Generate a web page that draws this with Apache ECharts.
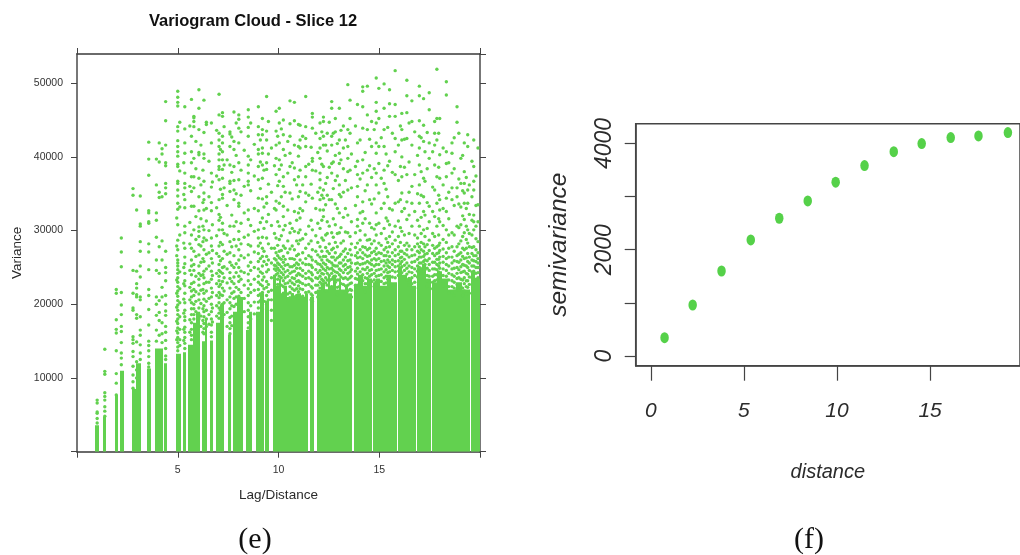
<!DOCTYPE html>
<html><head><meta charset="utf-8">
<script src="https://cdn.jsdelivr.net/npm/echarts@6/dist/echarts.min.js"></script>
<style>html,body{margin:0;padding:0;background:#fff}#c{width:1020px;height:555px}</style>
</head><body><div id="c"></div>
<script>
// Panel (e): variance values are in thousands.
// solid stripes: [lag start, lag end, top]
const solidStripes = [
[.87,1.07,3.6],[1.27,1.45,4.7],[1.87,2.03,7.7],[2.11,2.31,11],[2.71,2.95,8.5],[2.95,3.2,12],[3.47,3.66,11.3],[3.86,4.27,14],[4.34,4.49,12],
[4.89,5.15,13.3],[5.25,5.43,13.5],[5.53,5.75,14.5],[5.75,5.92,17.5],[5.92,6.09,19],[6.19,6.33,15],[6.33,6.46,18],[6.58,6.75,15.1],[6.88,7.08,17.5],[7.08,7.3,20],[7.49,7.65,15.9],[7.72,7.95,19],[7.95,8.25,21],[8.37,8.52,16.5],[8.52,8.7,19],[8.87,9.08,19],[9.08,9.29,21.5],[9.34,9.54,20.5],
[9.74,9.9,24],[9.9,10,22.5],[10,10.1,23.5],[10.1,10.25,21.5],[10.25,10.4,22.5],[10.4,10.6,21],[10.6,10.75,21.5],[10.75,10.9,21],[10.9,11.1,21.5],[11.1,11.3,21],[11.3,11.45,21.5],
[11.57,11.78,21],[11.9,12.1,22],[12.1,12.3,23],[12.3,12.45,22],[12.45,12.55,24],[12.55,12.7,22.5],[12.7,12.85,24],[12.85,13,22],[13,13.1,23.5],[13.1,13.3,22],[13.3,13.45,22.5],[13.45,13.67,21.5],
[13.77,13.95,22.5],[13.95,14.2,24],[14.2,14.4,22.5],[14.4,14.65,23.5],[14.69,14.85,23],[14.85,15.05,23.5],[15.05,15.36,22.5],[15.4,15.6,24],[15.6,15.88,23],[15.92,16.15,25],[16.15,16.4,24],[16.4,16.65,23.5],[16.65,16.83,22.5],
[16.87,17.1,25],[17.1,17.3,25.5],[17.34,17.57,23.5],[17.61,17.85,23],[17.85,18.1,24.5],[18.1,18.4,23.5],[18.4,18.8,22],[18.8,19.1,23],[19.1,19.5,22],[19.56,19.75,24.5],[19.75,20,23.5]
];
// sparse cloud: [lag, [variance...]]
const upperCloud = [
[1.0,[7,6.6,5.4,5.2,4.5,3.9]],[1.38,[13.9,10.9,10.5,8,7.5,7,6.1,5.5,4.8]],[1.95,[22,21.5,17.9,16.6,16.1,13.7,10.6,9.3,7.7]],
[2.2,[29,27.1,25.1,21.6,19.9,18.6,17,16.3,14.8,13.4,12.7,11.8]],
[2.78,[35.7,34.8,24.6,21.5,19.5,19.2,15.6,15.2,14.7,13.6,12.9,11.6,10.4,9.5,8.6]],[2.96,[32.8,24.5,22.8,22.2,21.3,21,18.6,18.1,14.9,12.2,11.1,10]],
[3.14,[34.7,30.9,30.6,28.5,27.2,25.2,23.7,21,20.6,18.3,16.5,15.8,14.5,13.4,12.5]],[3.56,[42,39.7,37.5,32.7,32.4,31,31.2,28.2,27.1,24.7,22,21.2,19.3,17.2,15,14.4,13.7,12.9,12,11.5]],
[3.94,[39.7,36.2,32.4,31.4,29.1,26,24.6,21,20,18.5,16.5,15]],[4.08,[41.9,39.3,35.2,34.5,27.8,24.2,20.5,18.9,17.8,15.8]],[4.22,[41.1,40.4,34.6,28.6,26,22.3,21,17.5,16,14.8]],
[4.4,[47.5,44.9,41.6,39.2,38.8,36.4,35.8,35,27.2,25,24.3,23.2,21.2,20,19.1,18.5,17,16.2,15.1,14,13,12.5]],
[5,[48.9,48.1,47.4,46.9,44.1,43.5,42.2,41.4,40.7,40.1,39,38.7,36.7,36.4,35.5,34.7,33.7,32.9,30.8,28.7,27.4,26,25.6,25.2,24.7,24.2,23.6,23,22.4,21.8,21.1,20.5,19.9,19.2,18.6,18,17.4,16.8,16.1,15.5,14.8,14.2,13.7]],
[5.35,[46.8,43.8,41.9,40.5,37.8,36.4,35.8,34.2,33.1,30.6,29.7,27.6,26.4,25.5,24.2,23.2,22.5,21.5,20.2,19.2,18.3,17.8,16.9,16.2,15.5,14.7,14]],
[5.68,[47.8,42.8,40.7,39.2,37.3,35.3,33.3,29.4,27.6,26,25.2,24,22.8,21.8,21,20.2,19.4,18.6,17.5,16.6,15.8,15.2]],
[5.8,[45.5,45.3,44.8,44.1,39.8,37.3,35.8,33.3,30.1,27.2,25.4,24.6,23,22,21.2,20,19.4,18.6,18]],
[6.05,[49.1,46.6,43.7,40.6,40.3,37.1,34.6,32.7,30.5,29.9,29.2,28.1,26.7,25.2,24.2,23.4,22.6,21.4,20.6,19.5,18.7,18]],
[6.3,[47.7,43.3,40.4,39.8,36.7,35.1,34.2,32.8,30.1,29,27.4,25.8,24.5,23.6,22.8,21.5,20.7,19.8,19,18.3,17.4,16.7,16]],
[6.42,[44.7,44.4,33,31.3,28.7,26.8,24.8,23,21.8,20.4,19.2,18,17]],
[6.67,[44.6,41.9,37.8,35.9,33.8,32.7,29,27.9,26.2,24.5,23.4,22.2,21,20,19,18,17.2,16.2,15.6]],
[7.05,[48.5,45.7,43.2,42.3,41.4,40.4,39.6,38.7,38.3,36.9,34.2,32.2,31.4,30.1,27.9,26.5,25.4,24.6,23.8,23.2,22.4,21.6,20.9,20.2,19.5,18.8,18.1]],
[7.22,[46,45.5,42.8,41.9,40.7,39.6,38.3,37.1,34.9,34.4,31,30.1,28.1,26.2,25,24.2,23.1,22.2,21.2,20,19,18.2]],
[7.59,[43.4,43.1,41.4,38.9,36.7,36.4,35.3,30.6,28.5,27,25.7,24.3,23.5,22.2,21,20.2,19.4,18.2,17.5,16.7,16]],
[7.79,[46.1,42.1,41,38.7,36.8,35.5,34.2,30.6,28.8,26.6,25,23.7,22.8,21.7,20.8,19.7]],
[8.03,[45.7,45.1,43.9,41.9,39.2,36.9,33.7,33.3,29.9,28.8,27.4,26,25,23.8,23.1,22,21.1,20.2,19.2]],
[8.5,[46.4,45.4,44,42.8,40.1,38.9,37.8,36.7,36.2,32.8,31.5,29.4,28.1,26.7,25.2,24.1,23.2,22.1,21.2,20.2,19.2,18.3,17.5,16.8]],
[9,[46.8,44.1,43,41,40.4,38.7,36.9,34.4,32.7,30.1,29,27.9,26.9,25.8,24.8,23.8,23,22,21.2,20.3,19.5]],
[9.2,[45.2,43.7,43,41.2,40.5,38.9,37.1,34.3,31.7,29.1,27.6,26.5,25.2,24.2,23.3,22.5,21.6,20.8,20,19.3]],
[9.41,[48.2,43.5,42.3,39.2,38.3,34.6,33.7,31.2,29,26.5,25.4,24.4,23.1,22.3,21.2,20.2,19.4]],
[9.88,[46.2,43.5,41.6,39.8,37.6,34,32.8,29,27,26,25.2,24.6,24]],
[10.04,[46.6,44.6,41.9,39.6,38.3,36.7,33.7,30.6,28.8,27.2,26.3,25.4,24.6,23.8]],
[10.24,[45,43,41,37.3,36,33.3,31.9,30.1,27.9,26.5,25.7,24.8,24,23.2,22.4,21.5]],
[10.57,[47.6,44.5,42.8,40.5,38.7,35.1,31,29.7,27.5,26.2,25.1,24.2,23.2,22.4,21.6,20.9]],
[10.79,[47.4,44.9,41.6,38.5,36.9,32.6,29.9,27.4,26.1,25.3,24.5,23.5,22.7,21.9,21]],
[10.99,[44.4,41.4,40.1,37.3,34.6,32.4,29.7,28.2,26.8,25.4,24.2,23.2,22.5,21.7,20.8]],
[11.07,[44.3,42.3,41.2,38.2,35.3,33,31.7,30.1,28.7,26,24.9,24,23,22.1]],
[11.35,[48.2,44.1,42.5,41.4,38.7,37.3,35.1,33.9,29.5,27.6,26.2,25.4,24.2,23.5,22.6,21.6,20.6]],
[11.68,[45.9,45.4,43.9,39.8,39.4,38.2,34.4,30.1,27.4,26,25,24,23.2,22.2,21.2,20.4]],
[12.06,[44.6,42.5,41.2,39.8,37.8,36.9,35.8,34.2,32.8,30.3,27.8,26.4,25.4,24.6,23.8,23,22.2]],
[12.23,[45.4,44.8,42.8,41.6,38.7,35.5,34.4,32.8,31.9,28.7,26.5,25.6,24.8,24.1,23.2,22.4]],
[12.42,[43.2,40.8,37.2,34.8,31.2,29.6,27.2,26,25,24.2,23.3,22.6,21.8]],
[12.64,[47.5,46.6,42.8,41.6,39.1,37.8,34.2,29.7,27.4,26.4,25.6,24.9,24.2,23.4,22.4]],
[12.82,[45.2,43.4,40.2,36.8,33.6,30.8,28.4,27,26,25.2,24.4,23.8,23]],
[13.02,[46.6,42.3,40.5,39.1,36.2,34.9,32.4,29.7,26.5,25.6,24.8,24,23.3,22.4]],
[13.22,[44.2,41.2,38.4,35.2,31.8,28.6,27.2,26,25.2,24.3,23.5,22.7]],
[13.44,[49.8,43.7,41.4,39.8,38,35.5,32.1,29.7,26.9,25.9,25,24.2,23.4,22.6,21.8]],
[13.55,[47.7,45.2,43.2,38.2,29.2,27.4,26,25.1,24.4,23.6,22.8,22]],
[13.92,[47.1,41.9,39.4,37.6,36,34.6,31.5,30.6,28.3,27,26.3,25.6,24.9,24.1,23.4,22.6]],
[14.18,[49.5,48.9,46.8,43.9,39.6,37.8,33.9,32.6,31,27.8,27,26.2,25.5,24.8,24,23.2]],
[14.41,[49.6,45.7,43.7,38.2,36.2,28.7,27.4,26.5,25.8,25,24.2,23.5,22.8]],
[14.62,[44.8,41.4,37.2,33.6,30.4,28.2,27,26,25.4,24.7,24,23.1]],
[14.85,[50.7,47.4,46.2,44.6,41.9,40.5,37.8,36.2,32.4,30.8,29.4,27.6,26.8,26,25.4,24.6,23.8,23,22.2]],
[14.98,[49.3,45.2,41.4,39.1,35.1,31,28.3,27,26.2,25.4,24.7,23.9,23.2]],
[15.24,[49.9,46.6,43.7,41.4,38.2,36.4,33.7,30.3,27.4,26.6,25.9,25.2,24.4,23.6,22.8]],
[15.51,[49.1,47.2,45.5,39.4,33,30.8,29.2,27.8,26.5,25.7,25,24.4,23.7,23]],
[15.79,[51.7,47.1,45.5,42.5,40.7,37.6,33.7,30.6,28.7,27.4,26.6,25.8,25.1,24.4,23.6,22.7]],
[16.12,[45.9,43.7,42.3,40,37.3,35.1,32.6,29.9,27.2,26.4,25.8,25.1,24.3]],
[16.37,[50.4,48.3,46,42.5,37.6,33.9,31.5,28.3,27.4,26.7,25.6,24.9,24.1,23.3]],
[16.62,[47.6,44.8,41.6,36,33.7,30.6,27.4,26.6,25.7,25,24.3,23.6,22.8]],
[16.99,[49.6,48.3,44.9,42.8,41.2,38.9,36.2,33.7,30.6,27.8,27,26.4,25.6,25,24.3]],
[17.2,[47.9,44.3,42.1,37.1,34.6,32.6,30.1,28.2,27.2,26.5,25.8,25.1,24.5]],
[17.48,[48.7,46.4,41.9,39.8,33.3,31.2,28.7,27.3,26.2,25.4,24.6,23.8,23]],
[17.75,[44.8,43.2,41.6,38.9,35.5,31.9,29.2,27.6,26.6,25.7,24.8,24,23.2]],
[17.86,[51.9,45.2,42.3,37.3,33.7,30.6,27.8,26.9,26.1,25.4,24.7,24,23.3]],
[18,[45.2,40.3,37.1,34.2,32.8,31.2,28.3,27.3,26.4,25.6,24.9,24.2]],
[18.33,[50.2,48.4,40.7,39.1,37.3,34.4,32.6,30.1,28.4,27,26.2,25.4,24.6,23.8,23]],
[18.61,[41.9,40.5,37.8,35.8,34.2,29.7,27.8,26.4,25.6,24.8,24,23.2,22.4,21.6]],
[18.86,[46.8,44.7,35.8,34.6,30.6,27.8,26.6,25.8,25,24.2,23.5,22.7,22]],
[19.05,[39.8,36.4,33.2,30.8,28.6,27,26,25.1,24.3,23.4,22.4]],
[19.22,[41.9,38,36.4,35.1,33.7,31.5,29.7,27.4,26.2,25.3,24.5,23.6,22.8,21.8]],
[19.39,[43,41.4,35.5,33.7,30.1,28.3,26.9,25.8,25,24.1,23.2,22.3]],
[19.69,[42.3,38.7,36.7,35.5,32.1,31.2,30.1,27.8,26.6,25.9,25.2,24.5]],
[19.9,[41.2,33.5,31.2,28.5,27,26.2,25.6,25,24.3,23.6]]
];
// denser part of the cloud, between the sparse columns
const denseCloud = [
[4.95,[31.7,27.9,26.6,23.3,21.5,19.6,17.7,16.4,15.2]],[5.1,[44.7,38.1,33.2,29.4,24.4,22.1,20.2,18.3,16.6,15.2,14.4]],[5.3,[39.2,34.9,28.3,25,22.8,20.7,18.8,16.6,15.1]],
[5.6,[44.2,36,31.1,28.2,24.6,22.3,20.6,17.9,16.2]],[5.9,[42.1,38.4,31.9,28.8,26.5,23.8,21.7,20.4,19]],[6.15,[41.6,36.2,31.6,27.9,25.7,23.9,21.9,20.1,18.4,17]],
[6.25,[38.2,33.8,30.6,28.5,26.2,24,22,19.4,17.8,16.2]],[6.55,[39.4,34.6,30,27,25.2,23,20.8,18.6,17.3]],[6.72,[36.6,30.8,27.3,25.6,23.9,21.6,19.5,17.6]],
[6.93,[43.6,37.4,33.1,29.3,26.9,24.2,22.8,21.2,19.8,18.4]],[7.12,[41,35.6,31.8,28.4,25.9,24.4,22.7,21.3,19.2]],[7.3,[44.1,38.9,35.8,29.6,27.2,25.1,23.6,21.8,20.2,18.6]],
[7.45,[39.6,33.4,29.4,26.8,24.8,22.9,20.6,18.9,17]],[7.68,[42.7,37.9,32.1,27.8,25.3,23.1,21.5,19.8,18.4,17.1]],[7.9,[44.6,40.2,35,31.2,27.9,25.5,24.3,22.3,21,20]],
[8.14,[43.4,38.2,34.8,31,28.2,26.6,24.5,23.4,21.6,20.6,19.6]],[8.3,[40.9,36,32.4,29.1,26.3,24.3,22.6,20.8,19]],[8.62,[44.6,39.6,35.4,30.7,27.9,25.7,24.6,22.7,21.6,19.8,18]],
[8.8,[41.7,37.4,33,29.9,27.1,25,23.4,21.9,20.3,18.7]],[9.1,[42.3,39.3,35.7,31.1,28.3,26.2,24.4,22.7,21.4,20.5]],[9.28,[38.2,33.2,30.3,27.2,25.8,23.7,22.1,20.4]],
[9.5,[44.8,40.4,36.3,32.2,28.2,26,24.7,22.7,21.7,20.6]],[9.65,[41.2,35.2,30.7,27.6,25.6,23.6,21.9,20.6,19.2,17.8]],[9.8,[38.8,33,29.6,27.6,26.2,25.3,24.8]],
[9.96,[42.8,36.1,31.2,28,26.6,25.6,24.9,24.2,23.4,22.7]],[10.14,[43.8,38.9,34.6,29.3,27.3,26.1,25.1,24.3,23.6,22.6,21.1]],[10.33,[40.2,35.2,30.7,27.6,26.1,25.3,24.4,23.6,22.8,22.1]],
[10.46,[42.1,37.8,32.8,28.6,27,25.4,24.6,23.8,22.9,21.4,20.5]],[10.68,[39.2,34.3,30.3,27.9,26.2,25.1,24.4,23.6,22.9,22.1,21.3]],[10.9,[36.2,31.4,28.6,26.6,25.6,24.9,23.9,23.1,22.1,21.2]],
[11.2,[42.8,36.2,32.7,28.9,27,25.6,24.6,23.8,22.8,22,21.1]],[11.5,[39,34.8,30.6,28.2,26.6,25.4,24.5,23.6,22.7,21.7]],[11.62,[41.3,36.3,31.4,28.6,26.4,25.3,24.3,23.4,22.4,21.4,20.6]],
[11.85,[43.2,38.1,33,29.3,27.2,25.8,24.7,23.6,22.6,21.6]],[11.95,[40.6,35.2,31,28.4,26.7,25.5,24.3,23.5,22.6,21.7,21]],[12.15,[43.4,39,34.8,31.4,29,27.2,26,25.1,24.2,23.4,22.7]],
[12.34,[41.6,36.4,33.5,29.4,27.7,26.5,25.4,24.6,23.6,22.9,21.8]],[12.52,[44.7,38.6,34.2,30.6,28.2,26.9,25.8,24.8,23.9,23.2]],[12.72,[43.2,39.3,35.7,31.6,29.1,27.6,26.4,25.3,24.6,23.7]],
[12.92,[41.8,37.4,33,29.6,27.8,26.3,25.2,24.3,23.3,22.3,21.3]],[13.1,[43.6,39.6,34.6,30.4,28.3,26.8,25.6,24.6,23.7,22.8]],[13.32,[42.3,36.8,33,29.8,27.5,26.4,25.4,24.7,23.6,22.5,21.6]],
[13.62,[40.4,35.8,31.2,28.2,26.7,25.6,24.7,23.8,22.9,21.9,21]],[13.82,[44.2,38.7,33.4,29.7,27.7,26.6,25.5,24.5,23.5,22.6,21.7]],[14.05,[42.3,37,32.4,30,28.7,27.4,26.4,25.4,24.4,23.6,22.9]],
[14.3,[40.6,35.4,31.6,29.4,27.7,26.7,25.6,24.7,23.6,22.8,21.7]],[14.52,[42.4,38.8,34.2,31,28.8,27.6,26.6,25.6,24.6,23.8,23]],[14.75,[43.7,38.4,34.3,30.2,28.6,27.2,26.2,25.2,24.2,23.3,22.4]],
[15.1,[42.6,37.1,33,29.6,28,26.9,25.8,24.8,24,23.1,22.2]],[15.34,[40.4,35.6,31.7,28.9,27.7,26.6,25.6,24.7,23.8,22.9,22]],[15.42,[44,38.8,34.6,31.3,28.4,27.1,26,25.2,24.3,23.4]],
[15.65,[43.2,37.9,32.8,29.8,28.2,27,26,25.4,24.6,23.7,22.6]],[15.95,[41.6,36.8,33.9,31.3,29.2,27.8,26.8,25.9,25.2,24.5,23.9]],[16.05,[44.2,38.7,34.2,30.4,28.4,27.2,26.3,25.5,24.9,24.1]],
[16.25,[42.4,38.6,33,29.4,28,26.9,26.1,25.3,24.6,23.7]],[16.48,[44.6,39.3,35.2,32.1,29.6,27.9,26.4,25.2,24.4,23.5,22.6]],[16.76,[43.4,37.6,32.6,29.4,27.8,26.7,25.8,24.8,23.9,23,22.2]],
[16.9,[40.2,35,31.4,29,28.2,27.2,26.1,25.2,24.5,23.7]],[17.08,[42.6,38,34.8,31.8,29.6,28.4,27.4,26.4,25.6,24.8,24.2]],[17.27,[40.7,36.7,32.1,29.2,27.8,26.8,26,25.4,24.7]],
[17.38,[43.3,38.4,33.8,30.3,28.1,26.9,25.9,24.9,23.9,23.2,22.4]],[17.65,[40.7,35.9,32.6,29.6,28,26.9,25.7,24.8,23.8,23,22.1]],[17.95,[43.2,38.6,34.8,31.6,29.4,28,27,26.1,25.2,24.4,23.6]],
[18.17,[41.2,36.2,33,30.7,28.8,27.5,26.5,25.7,24.8,23.9,23.1,22.5]],[18.45,[39.2,35.2,31.6,29.4,27.6,26.4,25.2,24.2,23.3,22.4,21.5]],[18.72,[42.6,38.4,33.4,29.4,27.2,25.9,24.9,23.8,23,22.2,21.2]],
[18.95,[43.2,37,33.6,30.4,28.2,26.8,25.7,24.7,23.6,22.7,21.9]],[19.14,[40.2,35.4,32,29.2,27.6,26.5,25.4,24.4,23.3,22.2,21.2]],[19.32,[37.2,33,30.6,28.8,27.6,26.3,25.2,24.2,23.2,22.4,21.4]],
[19.47,[36.2,32.2,29.6,27.8,26.4,25.6,24.6,23.7,22.7,21.5]],[19.6,[39.4,34.6,31.4,29.4,27.7,26.9,26,25.2,24.4,23.6]],[19.8,[37.4,33.4,30.6,28.9,27.4,26.6,25.8,25,24.2,23.4]]
];
// Panel (f): empirical variogram points
const distance = [0.74,2.25,3.80,5.37,6.90,8.43,9.93,11.48,13.05,14.55,16.11,17.60,19.18];
const semivariance = [345,960,1600,2185,2593,2919,3271,3584,3847,3998,4111,4143,4205];

const leftXTicks = [0,5,10,15,20];
const rightXTicks = [0,5,10,15];
const rightYTicks = [0,1000,2000,3000,4000];
const rightYLabels = [0,2000,4000];

const green = '#62d14f', ink = '#2b2b2b';
const sansStack = '"Liberation Sans", Arimo, Arial, Helvetica, sans-serif';
const cloud = [];
upperCloud.concat(denseCloud).forEach(c => c[1].forEach(v => cloud.push([c[0], v * 1000])));
const frameDark = {lineStyle:{color:'#3a3a3a',width:1.5}};
const frameGrey = {lineStyle:{color:'#777',width:2}};
const tickStyle = {length:6,lineStyle:{color:'#444',width:1}};

const chart = echarts.init(document.getElementById('c'), null, {renderer:'canvas'});
chart.setOption({
  animation:false, backgroundColor:'#fff',
  title:[
    {text:'Variogram Cloud - Slice 12',left:248,top:8,textAlign:'center',textStyle:{fontFamily:'Liberation Sans',fontSize:16.5,fontWeight:'bold',color:'#111'}},
    {text:'(e)',left:250,top:520,textAlign:'center',textStyle:{fontFamily:'Liberation Serif',fontSize:30,fontWeight:'normal',color:'#111'}},
    {text:'(f)',left:804,top:520,textAlign:'center',textStyle:{fontFamily:'Liberation Serif',fontSize:30,fontWeight:'normal',color:'#111'}}
  ],
  grid:[
    {left:77,top:54,width:403,height:397.7,show:false},
    {left:635.7,top:123.7,width:390.6,height:242,show:true,borderColor:'#444',borderWidth:1.5}
  ],
  xAxis:[
    {gridIndex:0,type:'value',min:0,max:20,interval:5,position:'bottom',splitLine:{show:false},
     axisLine:{show:true,onZero:false,...frameDark},axisTick:{show:true,...tickStyle},
     name:'Lag/Distance',nameLocation:'middle',nameGap:37,nameTextStyle:{fontFamily:'Liberation Sans',fontSize:13.5,color:ink},
     axisLabel:{margin:13,fontFamily:'Liberation Sans',fontSize:10.5,color:'#333',customValues:leftXTicks,formatter:v=>(v===0||v===20)?'':String(v)}},
    {gridIndex:0,type:'value',min:0,max:20,interval:5,position:'top',splitLine:{show:false},
     axisLine:{show:true,onZero:false,...frameDark},axisTick:{show:true,...tickStyle},axisLabel:{show:false}},
    {gridIndex:1,type:'value',min:-0.81,max:19.83,position:'bottom',splitLine:{show:false},
     axisLine:{show:true,onZero:false,lineStyle:{color:'#444',width:1.5}},
     axisTick:{show:true,length:15,customValues:rightXTicks,lineStyle:{color:'#444',width:1.2}},
     name:'distance',nameLocation:'middle',nameGap:97,nameTextStyle:{fontFamily:sansStack,fontStyle:'italic',fontSize:20,color:ink},
     axisLabel:{margin:35,fontFamily:sansStack,fontStyle:'italic',fontSize:21,color:ink,customValues:rightXTicks,formatter:v=>String(v)}}
  ],
  yAxis:[
    {gridIndex:0,type:'value',min:0,max:53960,interval:10000,position:'left',splitLine:{show:false},
     axisLine:{show:true,onZero:false,...frameGrey},axisTick:{show:true,...tickStyle},
     name:'Variance',nameLocation:'middle',nameGap:53,nameRotate:90,nameTextStyle:{fontFamily:'Liberation Sans',fontSize:13.5,color:ink},
     axisLabel:{margin:14,showMaxLabel:false,fontFamily:'Liberation Sans',fontSize:10.5,color:'#333',formatter:v=>(v===0||v>50000)?'':String(v)}},
    {gridIndex:0,type:'value',min:0,max:53960,interval:10000,position:'right',splitLine:{show:false},
     axisLine:{show:true,onZero:false,...frameGrey},axisTick:{show:true,...tickStyle},axisLabel:{show:false}},
    {gridIndex:1,type:'value',min:-183,max:4373,position:'left',splitLine:{show:false},
     axisLine:{show:true,onZero:false,lineStyle:{color:'#444',width:1.5}},
     axisTick:{show:true,length:11,customValues:rightYTicks,lineStyle:{color:'#444',width:1.2}},
     name:'semivariance',nameLocation:'middle',nameGap:64,nameRotate:90,nameTextStyle:{fontFamily:sansStack,fontStyle:'italic',fontSize:24.5,color:ink},
     axisLabel:{rotate:90,margin:20,fontFamily:sansStack,fontStyle:'italic',fontSize:23,color:ink,customValues:rightYLabels,formatter:v=>String(v)}}
  ],
  series:[
    {type:'custom',xAxisIndex:0,yAxisIndex:0,data:solidStripes,silent:true,clip:true,
     renderItem:(p,api)=>{
       const a=api.coord([api.value(0),api.value(2)*1000]), b=api.coord([api.value(1),0]);
       const x0=Math.round(a[0]), x1=Math.round(b[0]);
       return {type:'rect',shape:{x:x0,y:a[1],width:x1-x0,height:b[1]-a[1]},style:{fill:green}};
     },encode:{x:[0,1],y:2}},
    {type:'scatter',xAxisIndex:0,yAxisIndex:0,data:cloud,symbol:'circle',symbolSize:3.4,itemStyle:{color:green,opacity:1},silent:true,clip:true,large:false},
    {type:'scatter',xAxisIndex:2,yAxisIndex:2,data:distance.map((d,i)=>[d,semivariance[i]]),symbol:'circle',symbolSize:[8.5,11],itemStyle:{color:'#55d149',opacity:1},silent:true}
  ]
});
</script></body></html>
